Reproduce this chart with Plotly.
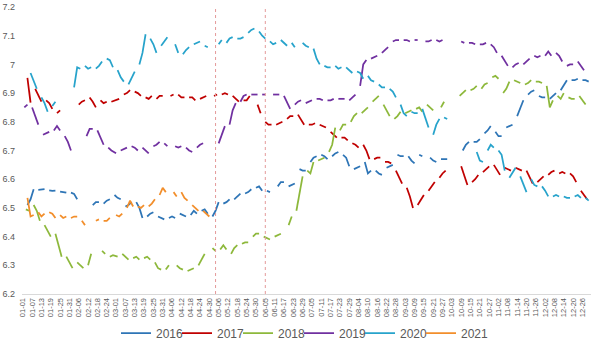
import datetime as dt
import plotly.graph_objects as go

N = None

# ---- data: central parity values, three readings per week (Mon, Wed, Fri) ----
years = [2016, 2017, 2018, 2019, 2020, 2021]
colors = ["#2E75B6", "#C00000", "#8DB83B", "#7030A0", "#27A3CB", "#F28E2B"]

w2016 = [
    [N, N, N], [6.51, 6.53, 6.565], [6.563, 6.563, 6.565], [6.561, 6.559, 6.56],
    [6.557, 6.555, 6.553], [6.553, 6.549, 6.53], [N, N, N], [6.51, 6.52, 6.52],
    [6.515, 6.525, 6.53], [6.545, 6.535, 6.53], [6.505, 6.51, 6.52], [6.52, 6.50, 6.465],
    [6.47, 6.48, 6.485], [6.47, 6.465, 6.46], [6.465, 6.47, 6.465], [6.48, 6.475, 6.47],
    [6.475, 6.49, 6.48], [6.49, 6.495, 6.48], [6.47, 6.49, 6.52], [6.515, 6.52, 6.53],
    [6.53, 6.54, 6.55], [6.55, 6.555, 6.565], [6.57, 6.575, 6.56], [6.56, 6.555, N],
    [6.575, 6.59, 6.59], [6.575, 6.58, 6.585], [6.635, 6.63, 6.63], [6.66, 6.675, 6.68],
    [6.685, 6.68, 6.67], [6.68, 6.69, 6.695], [6.685, 6.675, 6.645], [6.635, 6.64, 6.645],
    [6.66, 6.62, 6.63], [6.63, 6.62, 6.615], [6.64, 6.645, 6.65], [6.685, 6.68, 6.68],
    [6.68, 6.665, 6.655], [6.685, 6.68, N], [6.675, 6.665, 6.66], [6.67, 6.67, 6.67],
    [N, N, N], [6.70, 6.72, 6.73], [6.73, 6.73, 6.74], [6.76, 6.77, 6.785],
    [6.765, 6.75, 6.75], [6.78, 6.785, 6.79], [6.82, 6.85, 6.875], [6.895, 6.905, 6.91],
    [6.89, 6.885, 6.885], [6.88, 6.89, 6.90], [6.91, 6.93, 6.945], [6.945, 6.945, 6.95],
    [6.945, 6.945, 6.94],
]

w2017 = [
    [N, 6.953, 6.867], [6.915, 6.89, 6.87], [6.875, 6.865, 6.845], [6.83, 6.84, N],
    [N, N, N], [6.86, 6.87, 6.875], [6.885, 6.87, 6.85], [6.875, 6.865, 6.87],
    [6.87, 6.875, 6.88], [6.895, 6.90, 6.91], [6.905, 6.90, 6.89], [6.885, 6.88, 6.89],
    [6.88, 6.89, 6.89], [N, 6.89, 6.895], [6.895, 6.885, 6.885], [6.885, 6.885, 6.875],
    [6.88, 6.885, 6.89], [N, 6.89, 6.895], [6.895, 6.90, 6.895], [6.89, 6.88, 6.87],
    [6.875, 6.875, 6.89], [N, 6.86, 6.83], [6.80, 6.79, 6.79], [6.79, 6.795, 6.80],
    [6.81, 6.82, 6.82], [6.825, 6.805, 6.79], [6.79, 6.79, 6.795], [6.79, 6.785, 6.78],
    [6.765, 6.755, 6.745], [6.745, 6.745, 6.735], [6.725, 6.72, 6.71], [6.72, 6.70, 6.67],
    [6.67, 6.675, 6.675], [6.66, 6.66, 6.655], [6.63, 6.61, 6.585], [6.57, 6.54, 6.50],
    [6.51, 6.53, 6.545], [6.56, 6.575, 6.59], [6.605, 6.62, 6.63], [N, N, N],
    [6.645, 6.61, 6.58], [6.59, 6.60, 6.615], [6.625, 6.635, 6.645], [6.65, 6.63, 6.615],
    [6.64, 6.635, 6.63], [6.64, 6.635, 6.63], [6.63, 6.61, 6.585], [6.59, 6.60, 6.61],
    [6.615, 6.625, 6.63], [6.62, 6.625, 6.62], [6.62, 6.61, 6.59], [6.56, 6.545, 6.53],
]

w2018 = [
    [N, 6.495, 6.49], [6.51, 6.49, 6.455], [6.44, 6.42, 6.40], [6.41, 6.37, 6.33],
    [6.33, 6.31, 6.29], [6.31, 6.30, 6.29], [6.30, 6.34, N], [N, 6.35, 6.34],
    [6.33, 6.335, 6.33], [6.34, 6.33, 6.32], [6.325, 6.33, 6.32], [6.325, 6.33, 6.32],
    [6.31, 6.29, 6.285], [6.285, 6.30, N], [6.30, 6.29, 6.285], [6.28, 6.285, 6.29],
    [6.30, 6.32, 6.34], [N, 6.36, 6.35], [6.355, 6.37, 6.355], [6.34, 6.36, 6.37],
    [6.375, 6.38, 6.38], [6.40, 6.41, 6.41], [6.40, 6.395, 6.39], [6.40, 6.405, 6.41],
    [N, 6.44, 6.47], [6.49, 6.55, 6.61], [6.63, 6.62, 6.66], [6.665, 6.67, 6.675],
    [6.695, 6.72, 6.78], [6.77, 6.79, 6.79], [6.80, 6.82, 6.83], [6.83, 6.84, 6.85],
    [6.87, 6.88, 6.89], [6.86, 6.84, 6.82], [6.81, 6.82, 6.835], [6.83, 6.835, 6.84],
    [6.845, 6.85, 6.835], [6.86, 6.85, 6.84], [N, 6.85, 6.87], [N, N, N],
    [6.89, 6.90, 6.91], [6.91, 6.915, 6.925], [6.915, 6.93, 6.935], [6.955, 6.96, 6.95],
    [6.90, 6.915, 6.94], [6.945, 6.94, 6.935], [6.93, 6.935, 6.945], [6.94, 6.94, 6.935],
    [6.925, 6.85, 6.875], [6.89, 6.88, 6.9], [6.885, 6.88, 6.88], [6.89, 6.875, 6.86],
    [N, N, N],
]

w2019 = [
    [N, 6.85, 6.86], [6.85, 6.82, 6.79], [6.755, 6.76, 6.765], [6.77, 6.785, 6.77],
    [6.75, 6.73, 6.70], [N, N, N], [6.75, 6.775, 6.775], [6.77, 6.745, 6.72],
    [6.71, 6.70, 6.69], [6.70, 6.705, 6.71], [6.715, 6.71, 6.70], [6.71, 6.70, 6.69],
    [6.715, 6.72, 6.73], [6.725, 6.715, N], [6.715, 6.71, 6.715], [6.71, 6.70, 6.695],
    [6.71, 6.72, 6.725], [6.725, N, N], [6.725, 6.755, 6.785], [6.79, 6.84, 6.865],
    [6.87, 6.89, 6.895], [6.895, 6.895, 6.895], [6.895, 6.895, N], [6.895, 6.895, 6.895],
    [6.89, 6.87, 6.845], [6.86, 6.87, 6.875], [6.865, 6.87, 6.875], [6.88, 6.88, 6.875],
    [6.875, 6.875, 6.88], [6.88, 6.88, 6.88], [6.875, 6.885, 6.895], [6.925, 7.0, 7.015],
    [7.02, 7.025, 7.03], [7.04, 7.05, 7.06], [7.08, 7.085, 7.085], [7.085, 7.085, 7.08],
    [7.085, 7.085, N], [7.08, 7.08, 7.085], [7.085, 7.08, 7.085], [7.075, N, N],
    [N, 7.08, 7.075], [7.075, 7.075, 7.07], [7.07, 7.07, 7.075], [7.07, 7.06, 7.04],
    [7.03, 7.01, 6.995], [6.99, 7.0, 7.005], [7.0, 7.01, 7.02], [7.03, 7.025, 7.03],
    [7.03, 7.045, 7.03], [7.04, 7.03, 7.01], [6.995, 7.0, 7.0], [7.01, 6.995, 6.98],
    [6.975, N, N],
]

w2020 = [
    [N, N, 6.968], [6.97, 6.94, 6.915], [6.885, 6.865, 6.835], [6.855, 6.87, N],
    [N, N, N], [6.92, 6.99, 6.985], [6.995, 6.985, 6.99], [6.985, 6.995, 7.01],
    [7.02, 7.015, 6.99], [6.98, 6.955, 6.94], [6.93, 6.95, 6.975], [7.0, 7.04, 7.105],
    [7.09, 7.07, 7.04], [7.065, 7.08, 7.095], [N, 7.07, 7.04], [7.035, 7.05, 7.06],
    [7.07, 7.075, 7.08], [7.065, 7.06, N], [N, 7.07, 7.085], [7.075, 7.09, 7.095],
    [7.09, 7.09, 7.095], [7.11, 7.12, 7.125], [7.115, 7.10, 7.09], [7.08, 7.07, 7.075],
    [7.085, 7.075, 7.065], [7.075, 7.06, N], [7.075, 7.065, 7.06], [7.055, 7.02, 7.0],
    [6.995, 6.99, 6.99], [6.995, 6.985, 6.99], [6.99, 6.98, 6.97], [6.975, 6.97, 6.95],
    [6.96, 6.945, 6.94], [6.93, 6.92, 6.92], [6.915, 6.905, 6.885], [6.86, 6.83, 6.82],
    [6.835, 6.83, 6.83], [6.845, 6.815, 6.78], [6.755, 6.79, 6.81], [6.815, 6.81, N],
    [N, N, N], [N, N, N], [6.695, 6.665, 6.66], [6.70, 6.72, 6.71],
    [6.70, 6.685, 6.63], [6.605, 6.625, 6.64], [6.61, 6.58, 6.555], [6.60, 6.58, 6.575],
    [6.575, 6.56, 6.54], [6.54, 6.545, 6.54], [6.54, 6.535, 6.535], [6.54, 6.545, 6.535],
    [6.535, 6.525, N],
]

w2021 = [
    [N, N, N], [6.535, 6.47, 6.475], [6.485, 6.47, 6.48], [6.485, 6.48, 6.465],
    [6.475, 6.465, 6.47], [6.465, 6.47, 6.47], [6.455, 6.44, N], [N, 6.455, 6.46],
    [6.455, 6.455, 6.465], [6.475, 6.47, 6.48], [6.50, 6.525, 6.505], [6.505, 6.50, 6.51],
    [6.505, 6.515, 6.53], [6.545, 6.57, 6.555], [N, 6.555, 6.54], [6.555, 6.535, 6.525],
    [6.51, 6.50, 6.49], [6.49, 6.48, 6.47],
]

weekly = [w2016, w2017, w2018, w2019, w2020, w2021]

# reference dates marked with dotted vertical lines (month-day)
ref_dates = ["05-04", "06-05"]

# y tick labels
y_ticks = [6.2, 6.3, 6.4, 6.5, 6.6, 6.7, 6.8, 6.9, 7.0, 7.1, 7.2]
y_labels = ["6.2", "6.3", "6.4", "6.5", "6.6", "6.7", "6.8", "6.9", "7", "7.1", "7.2"]


def md(d):
    return f"2020-{d.month:02d}-{d.day:02d}"


def build(year, weeks):
    jan1 = dt.date(year, 1, 1)
    start = jan1 - dt.timedelta(days=4)
    start += dt.timedelta(days=(7 - start.weekday()) % 7)
    xs, ys = [], []
    for k, trip in enumerate(weeks):
        mon = start + dt.timedelta(days=7 * k)
        for off, v in zip((0, 2, 4), trip):
            d = mon + dt.timedelta(days=off)
            if d.year != year:
                continue
            xs.append(md(d))
            ys.append(v)
        sat = mon + dt.timedelta(days=5)
        if sat.year == year:
            xs.append(md(sat))
            ys.append(None)
    return xs, ys


fig = go.Figure()
for i, (year, weeks, col) in enumerate(zip(years, weekly, colors)):
    xs, ys = build(year, weeks)
    fig.add_trace(go.Scatter(x=xs, y=ys, mode="lines", name=str(year),
                             line=dict(color=col, width=1.75), connectgaps=False,
                             legendwidth=16 if i < len(years) - 1 else 34))

# x ticks every 6 days (category labels mm-dd)
tick_dates = []
d = dt.date(2020, 1, 1)
while d <= dt.date(2020, 12, 31):
    tick_dates.append(d)
    d += dt.timedelta(days=6)
tick_vals = [md(t) for t in tick_dates]
tick_text = [f"{t.month:02d}-{t.day:02d}" for t in tick_dates]

for r in ref_dates:
    fig.add_shape(type="line", xref="x", yref="paper", x0="2020-" + r, x1="2020-" + r,
                  y0=0, y1=1, line=dict(color="#E49A9A", width=1, dash="dot"))

fig.update_layout(
    width=600, height=348,
    margin=dict(l=22, r=9, t=7, b=54, autoexpand=False),
    paper_bgcolor="white", plot_bgcolor="white",
    font=dict(family="Liberation Sans, Arial, sans-serif", color="#595959"),
    showlegend=True,
    legend=dict(orientation="h", x=(116 - 22) / 569, xanchor="left", y=-0.136, yanchor="middle",
                font=dict(size=12, color="#595959"), itemwidth=30,
                entrywidthmode="pixels", bgcolor="rgba(0,0,0,0)"),
)
fig.update_xaxes(type="date", range=["2019-12-31 12:00", "2020-12-31 12:00"],
                 tickmode="array", tickvals=tick_vals, ticktext=tick_text,
                 tickangle=-90, tickfont=dict(size=7.5, color="#595959"),
                 showgrid=False, zeroline=False, showline=True, linecolor="#D9D9D9",
                 linewidth=1, ticks="", automargin=False)
fig.update_yaxes(range=[6.2, 7.2], tickmode="array", tickvals=y_ticks, ticktext=y_labels,
                 tickfont=dict(size=9, color="#595959"), showgrid=False, zeroline=False,
                 showline=False, ticks="", ticklabelstandoff=6, automargin=False)

fig.write_html("out.html")
